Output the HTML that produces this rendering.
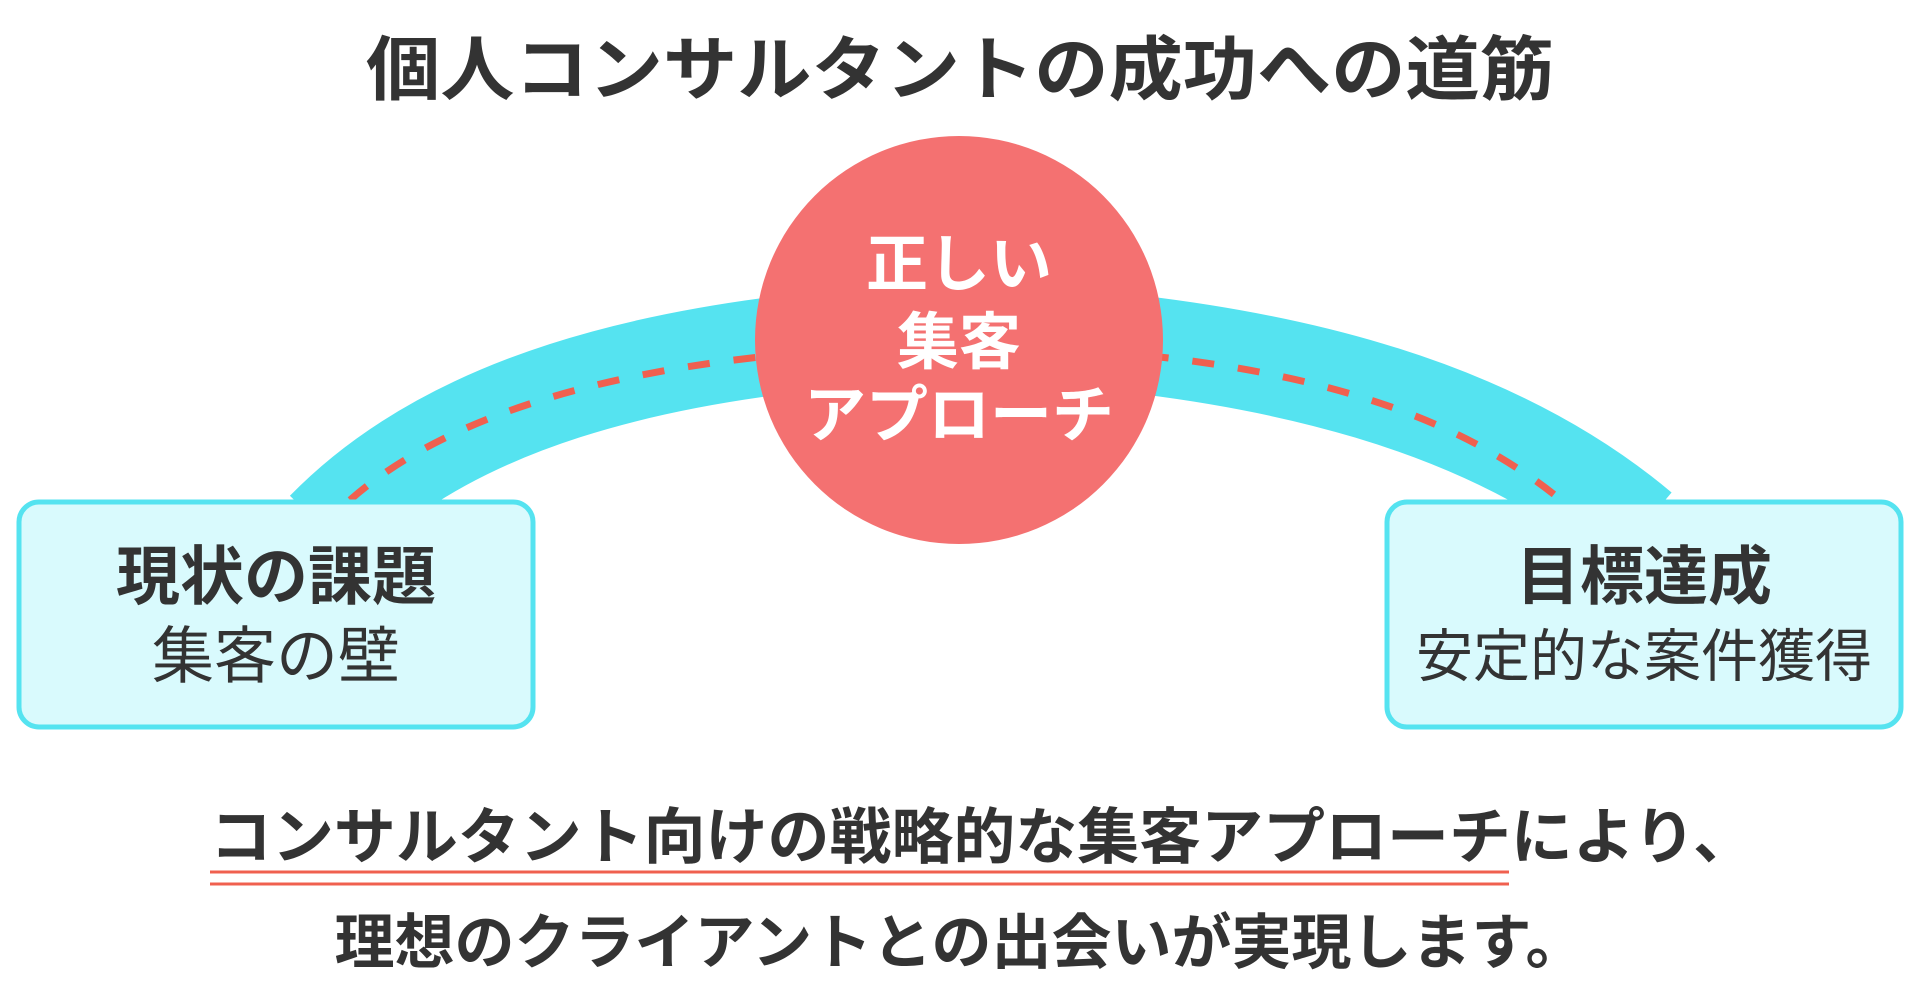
<!DOCTYPE html>
<html><head><meta charset="utf-8"><style>
html,body{margin:0;padding:0;background:#fff;}
svg{display:block}
text{font-family:"Liberation Sans","Noto Sans CJK JP",sans-serif;}
</style></head><body>
<svg width="1920" height="995" viewBox="0 0 1920 995" xmlns="http://www.w3.org/2000/svg">
<text x="960" y="70" text-anchor="middle" dominant-baseline="central" font-size="70" font-weight="700" fill="#333" textLength="1188" lengthAdjust="spacingAndGlyphs">個人コンサルタントの成功への道筋</text>
<path d="M325 530 C 440 412 637 343 961 331 C 1285 343 1500 412 1640 530" fill="none" stroke="#55e3f0" stroke-width="98"/>
<path d="M350 500 C 450 412 637 350 961 345 C 1285 350 1450 412 1556 496" fill="none" stroke="#f0604f" stroke-width="7" stroke-dasharray="22 24"/>
<circle cx="959" cy="340" r="204" fill="#f47171"/>
<text x="959" y="265" text-anchor="middle" dominant-baseline="central" font-size="62" font-weight="700" fill="#fff">正しい</text>
<text x="959" y="343" text-anchor="middle" dominant-baseline="central" font-size="62" font-weight="700" fill="#fff">集客</text>
<text x="959" y="416" text-anchor="middle" dominant-baseline="central" font-size="62" font-weight="700" fill="#fff">アプローチ</text>
<rect x="19" y="502" width="514" height="225" rx="20" fill="#d9fafd" stroke="#55e3f0" stroke-width="5"/>
<rect x="1387" y="502" width="514" height="225" rx="20" fill="#d9fafd" stroke="#55e3f0" stroke-width="5"/>
<text x="276" y="577" text-anchor="middle" dominant-baseline="central" font-size="64" font-weight="700" fill="#333">現状の課題</text>
<text x="276" y="657" text-anchor="middle" dominant-baseline="central" font-size="62" fill="#333">集客の壁</text>
<text x="1644" y="577" text-anchor="middle" dominant-baseline="central" font-size="64" font-weight="700" fill="#333">目標達成</text>
<text x="1644" y="657" text-anchor="middle" dominant-baseline="central" font-size="57" fill="#333">安定的な案件獲得</text>
<text x="210" y="837" dominant-baseline="central" font-size="61" font-weight="700" fill="#333" textLength="1545" lengthAdjust="spacingAndGlyphs">コンサルタント向けの戦略的な集客アプローチにより、</text>
<line x1="210" y1="872" x2="1509" y2="872" stroke="#f0604f" stroke-width="3"/>
<line x1="210" y1="884" x2="1509" y2="884" stroke="#f0604f" stroke-width="3"/>
<text x="960" y="943" text-anchor="middle" dominant-baseline="central" font-size="60" font-weight="700" fill="#333">理想のクライアントとの出会いが実現します。</text>
</svg>
</body></html>
